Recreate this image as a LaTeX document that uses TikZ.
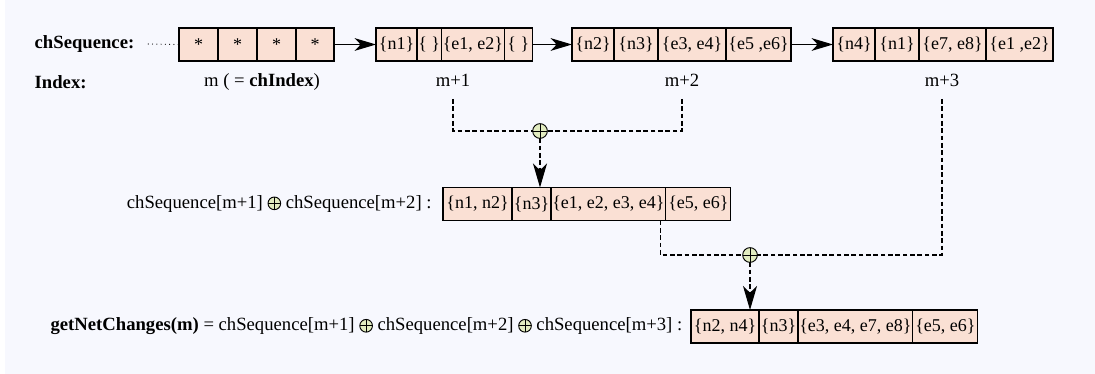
\documentclass[tikz,border=0pt]{standalone}
\usepackage{fontspec}
\setmainfont{Liberation Serif}
\usepackage{tikz}
\usetikzlibrary{arrows.meta, positioning}

\definecolor{bgcol}{RGB}{247,248,254}
\definecolor{cellfill}{RGB}{250,224,212}
\definecolor{sumfill}{RGB}{226,236,192}

\tikzset{
    sumop/.style={circle, draw, fill=sumfill, inner sep=0pt, outer sep=0pt, minimum size=11pt, line width=0.7pt,
        path picture={\draw[line width=0.7pt] (path picture bounding box.north) -- (path picture bounding box.south)
            (path picture bounding box.west) -- (path picture bounding box.east);}}
}
\newcommand{\opsym}{\tikz[baseline=-0.6ex]\node[sumop, minimum size=9.5pt]{};}

\begin{document}
\begin{tikzpicture}[
    x=0.75pt, y=-0.75pt,
    font=\fontsize{14}{16}\selectfont,
    cell/.style={draw, fill=cellfill, line width=0.8pt, minimum height=24.75pt, inner sep=1pt, outer sep=0pt,
        font=\fontsize{13.5}{15}\selectfont},
    arrow/.style={-{Stealth[length=16pt, width=9.5pt, inset=4.5pt]}, line width=0.8pt},
    dashline/.style={line width=0.8pt, dash pattern=on 3.5pt off 2pt},
    dasharrow/.style={dashline, -{Stealth[length=18pt, width=10.5pt, inset=5pt]}}
]
    \useasboundingbox (0,0) rectangle (1095,374);
    \fill[bgcol] (5,0) rectangle (1095,374);

    % row labels
    \node[anchor=west, font=\fontsize{14}{16}\selectfont\bfseries] (seqlbl) at (30,44) {chSequence:};
    \node[anchor=west, font=\fontsize{14}{16}\selectfont\bfseries] (idxlbl) at (30,82) {Index:};

    % chSequence[m]
    \node[cell, minimum width=29.25pt, anchor=west] (s1) at (179,44.5) {*};
    \node[cell, minimum width=29.25pt, right=0pt of s1] (s2) {*};
    \node[cell, minimum width=29.25pt, right=0pt of s2] (s3) {*};
    \node[cell, minimum width=28.5pt, right=0pt of s3] (s4) {*};

    % chSequence[m+1]
    \node[cell, minimum width=30.75pt, anchor=west] (a1) at (376,44.5) {\{n1\}};
    \node[cell, minimum width=18pt, right=0pt of a1] (a2) {\{ \}};
    \node[cell, minimum width=46.5pt, right=0pt of a2] (a3) {\{e1, e2\}};
    \node[cell, minimum width=21pt, right=0pt of a3] (a4) {\{ \}};

    % chSequence[m+2]
    \node[cell, minimum width=31.5pt, anchor=west] (b1) at (572,44.5) {\{n2\}};
    \node[cell, minimum width=33pt, right=0pt of b1] (b2) {\{n3\}};
    \node[cell, minimum width=51pt, right=0pt of b2] (b3) {\{e3, e4\}};
    \node[cell, minimum width=48.75pt, right=0pt of b3] (b4) {\{e5 ,e6\}};

    % chSequence[m+3]
    \node[cell, minimum width=31.5pt, anchor=west] (c1) at (833,44.5) {\{n4\}};
    \node[cell, minimum width=33pt, right=0pt of c1] (c2) {\{n1\}};
    \node[cell, minimum width=50.25pt, right=0pt of c2] (c3) {\{e7, e8\}};
    \node[cell, minimum width=50.25pt, right=0pt of c3] (c4) {\{e1 ,e2\}};

    \draw[line width=0.9pt, line cap=round, dash pattern=on 0pt off 3.2pt] ([xshift=7pt]seqlbl.east) -- (s1.west);
    \draw[arrow] (s4) -- (a1);
    \draw[arrow] (a4) -- (b1);
    \draw[arrow] (b4) -- (c1);

    % indices
    \node (idx0) at (262,82) {m ( = \textbf{chIndex})};
    \node (idx1) at (453,80) {m+1};
    \node (idx2) at (682,80) {m+2};
    \node (idx3) at (942,80) {m+3};

    % first merge
    \node[sumop] (sum1) at (540,131) {};
    \node[cell, minimum width=51.75pt, anchor=west] (r2a) at (443,204) {\{n1, n2\}};
    \node[cell, minimum width=29.25pt, right=0pt of r2a] (r2b) {\{n3\}};
    \node[cell, minimum width=85.5pt, right=0pt of r2b] (r2c) {\{e1, e2, e3, e4\}};
    \node[cell, minimum width=48.75pt, right=0pt of r2c] (r2d) {\{e5, e6\}};
    \node[left=5pt of r2a] (r2lbl) {chSequence[m+1] \opsym{} chSequence[m+2] :};

    \draw[dashline] ([yshift=-6pt]idx1.south) |- (sum1);
    \draw[dashline] ([yshift=-6pt]idx2.south) |- (sum1);
    \draw[dasharrow] (sum1) -- (sum1 |- r2b.north);

    % second merge
    \node[sumop] (sum2) at (750,255) {};
    \node[cell, minimum width=51pt, anchor=west] (r3a) at (691,326.5) {\{n2, n4\}};
    \node[cell, minimum width=29.25pt, right=0pt of r3a] (r3b) {\{n3\}};
    \node[cell, minimum width=85.5pt, right=0pt of r3b] (r3c) {\{e3, e4, e7, e8\}};
    \node[cell, minimum width=48.75pt, right=0pt of r3c] (r3d) {\{e5, e6\}};
    \node[left=3pt of r3a] (r3lbl) {\textbf{getNetChanges(m)} = chSequence[m+1] \opsym{} chSequence[m+2] \opsym{} chSequence[m+3] :};

    \draw[dashline] ([xshift=-4pt]r2c.south east) |- (sum2);
    \draw[dashline] ([yshift=-6pt]idx3.south) |- (sum2);
    \draw[dasharrow] (sum2) -- (sum2 |- r3a.north);
\end{tikzpicture}
\end{document}
